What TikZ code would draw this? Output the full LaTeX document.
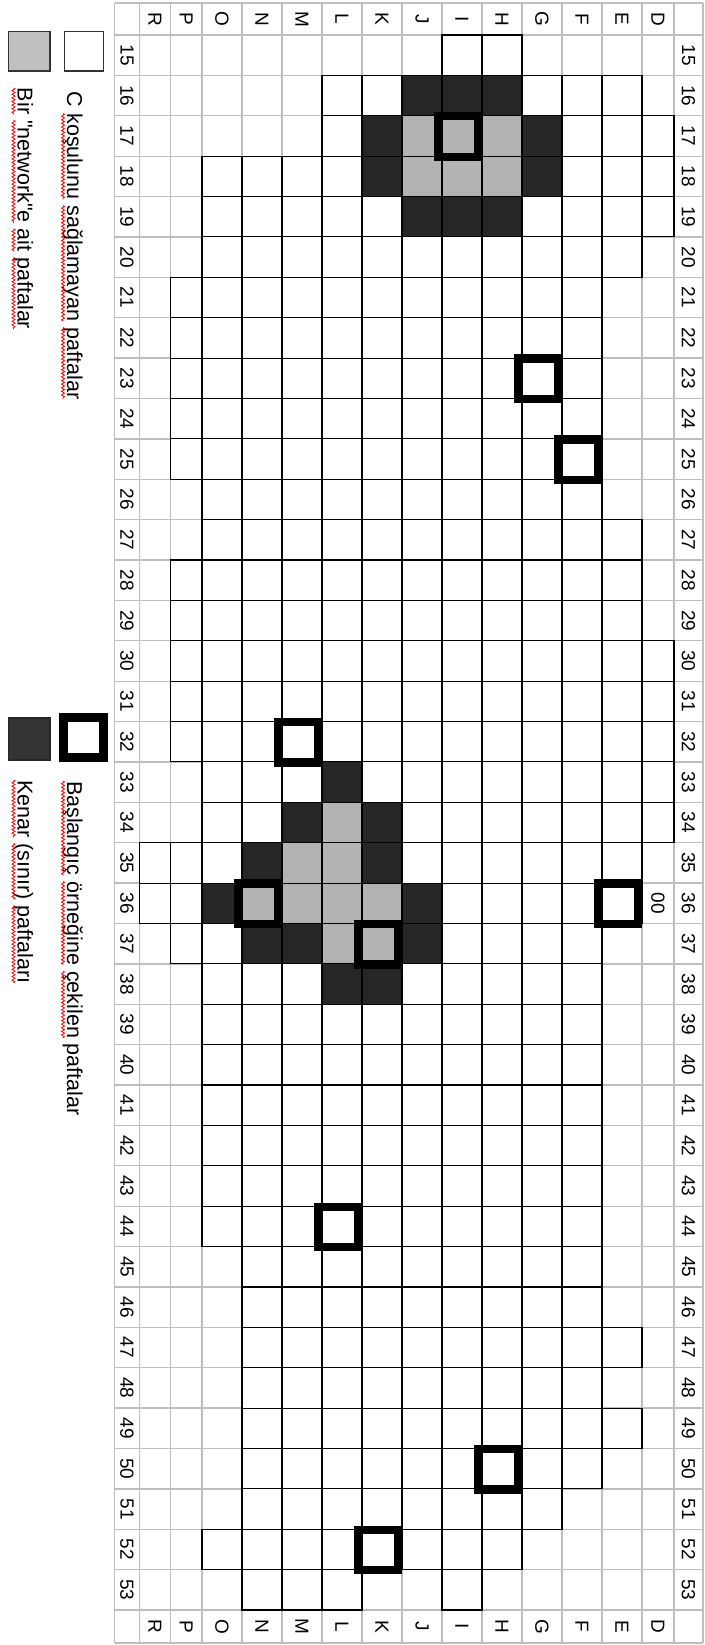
\documentclass[tikz,border=0pt]{standalone}
\usepackage{fontspec}
\setmainfont{Liberation Sans}
\newfontfamily\legfont{Liberation Sans}
\usetikzlibrary{decorations.pathmorphing}
\definecolor{gridgray}{HTML}{BEBEBE}
\definecolor{netgray}{HTML}{B3B3B3}
\definecolor{edgedark}{HTML}{262626}
\definecolor{leggray}{HTML}{C0C0C0}
\definecolor{legdark}{HTML}{333333}
\def\cx{{139.5,170.5,202,242,282,322,362,402,442,482,522,562,602,642,674}}
\newcommand\cellxy[2]{%
  \pgfmathsetmacro\pxa{\cx[#2-1]}%
  \pgfmathsetmacro\pxb{\cx[#2]}%
  \pgfmathsetmacro\pya{35+(#1-15)*40.385}%
  \pgfmathsetmacro\pyb{\pya+40.385}}
\def\wordgap{5.98pt}
\tikzset{
  gridl/.style={draw=gridgray, line width=1.3pt},
  cellb/.style={draw=black, line width=1.1pt, fill=white},
  netcell/.style={draw=black, line width=1.1pt, fill=netgray},
  edgecell/.style={draw=black, line width=1.1pt, fill=edgedark},
  startbox/.style={draw=black, line width=8.3pt},
  hdr/.style={font=\fontsize{19}{19}\selectfont, rotate=-90, inner sep=0pt, outer sep=0pt},
  leg/.style={font=\legfont\fontsize{21.5}{22}\selectfont, rotate=-90, inner sep=0pt, outer sep=0pt, anchor=base west},
  sq/.style={draw=red, line width=0.8pt, decorate, decoration={zigzag, segment length=3.6pt, amplitude=1.5pt}},
}
\begin{document}
\begin{tikzpicture}[x=1pt,y=-1pt]
\useasboundingbox (0,0) rectangle (704,1645);
\fill[white] (0,0) rectangle (704,1645);
% grid
\foreach \gx in {114.5,139.5,170.5,202,242,282,322,362,402,442,482,522,562,602,642,674,703}
  \draw[gridl] (\gx,3) -- (\gx,1643);
\draw[gridl] (114.5,3) -- (703,3);
\foreach \k in {0,...,39}
  \draw[gridl] (114.5,{35+\k*40.385}) -- (703,{35+\k*40.385});
\draw[gridl] (114.5,1643) -- (703,1643);
% cells of the area (white)
\foreach \r/\a/\b in {15/9/10,16/6/13,17/6/14,18/3/14,19/3/14,20/3/13,
  21/2/12,22/2/12,23/2/12,24/2/12,25/2/12,26/3/12,27/3/13,28/2/13,29/2/13,
  30/2/14,31/2/14,32/2/14,33/3/14,34/3/14,35/1/13,36/1/13,37/2/12,
  38/3/12,39/3/12,40/3/12,41/3/12,42/3/12,43/3/12,44/3/12,
  45/4/12,46/4/12,47/4/13,48/4/12,49/4/13,50/4/12,51/4/11,52/3/10,53/4/6,53/9/9}{
  \foreach \c in {\a,...,\b}{
    \cellxy{\r}{\c}
    \draw[cellb] (\pxa,\pya) rectangle (\pxb,\pyb);
  }
}
% network cells
\foreach \r/\c in {17/8,17/9,17/10,18/8,18/9,18/10,34/6,35/5,35/6,36/4,36/5,36/6,36/7,37/6,37/7}{
  \cellxy{\r}{\c}
  \draw[netcell] (\pxa,\pya) rectangle (\pxb,\pyb);
}
% edge cells
\foreach \r/\c in {16/8,16/9,16/10,17/7,17/11,18/7,18/11,19/8,19/9,19/10,
  33/6,34/5,34/7,35/4,35/7,36/3,36/8,37/4,37/5,37/8,38/6,38/7}{
  \cellxy{\r}{\c}
  \draw[edgecell] (\pxa,\pya) rectangle (\pxb,\pyb);
}
% start sample cells
\foreach \r/\c in {17/9,23/11,25/12,32/5,36/4,37/7,36/13,44/6,50/10,52/7}{
  \cellxy{\r}{\c}
  \draw[startbox] ({\pxa-4},{\pya+0.5}) rectangle ({\pxb-4},{\pyb+0.5});
}
% column letters
\foreach \L [count=\i] in {R,P,O,N,M,L,K,J,I,H,G,F,E,D}{
  \cellxy{15}{\i}
  \pgfmathsetmacro\mx{(\pxa+\pxb)/2}
  \node[hdr] (top\L) at (\mx,19) {\L};
  \node[hdr] (bot\L) at (\mx,1626.5) {\L};
}
% row numbers
\foreach \r in {15,...,53}{
  \pgfmathsetmacro\my{35+(\r-15)*40.385+20.19}
  \node[hdr] (ln\r) at (127,\my) {\r};
  \node[hdr] (rn\r) at (688.5,\my) {\r};
}
\node[hdr] (zz) at (658,903.2) {00};
% legend boxes
\draw[draw=legdark, line width=1.5pt, fill=white] (64.3,31.7) rectangle (103.3,71);
\draw[draw=legdark, line width=1.5pt, fill=leggray] (8.3,31.7) rectangle (50,71);
\draw[draw=black, line width=9pt] (63.5,717.5) rectangle (103.2,757.5);
\draw[draw=black!85, line width=1.5pt, fill=legdark] (8.3,718) rectangle (50,760);
% legend text 1
\node[leg] (t1a) at (67,92) {C};
\node[leg] (t1b) at ([yshift=-\wordgap]t1a.base east) {koşulunu};
\node[leg] (t1c) at ([yshift=-\wordgap]t1b.base east) {sağlamayan};
\node[leg] (t1d) at ([yshift=-\wordgap]t1c.base east) {paftalar};
\foreach \w in {t1b,t1c,t1d}
  \draw[sq] ([xshift=-4pt]\w.base west) -- ([xshift=-4pt]\w.base east);
% legend text 2
\node[leg] (t2a) at (17.5,88) {Bir};
\node[leg] (t2b) at ([yshift=-\wordgap]t2a.base east) {"network"e};
\node[leg] (t2c) at ([yshift=-\wordgap]t2b.base east) {ait};
\node[leg] (t2d) at ([yshift=-\wordgap]t2c.base east) {paftalar};
\foreach \w in {t2a,t2b,t2c,t2d}
  \draw[sq] ([xshift=-4pt]\w.base west) -- ([xshift=-4pt]\w.base east);
% legend text 3
\node[leg] (t3a) at (67,781) {Başlangıç};
\node[leg] (t3b) at ([yshift=-\wordgap]t3a.base east) {örneğine};
\node[leg] (t3c) at ([yshift=-\wordgap]t3b.base east) {çekilen};
\node[leg] (t3d) at ([yshift=-\wordgap]t3c.base east) {paftalar};
\foreach \w in {t3a,t3b,t3c}
  \draw[sq] ([xshift=-4pt]\w.base west) -- ([xshift=-4pt]\w.base east);
% legend text 4
\node[leg] (t4a) at (17.5,780) {Kenar};
\node[leg] (t4b) at ([yshift=-\wordgap]t4a.base east) {(sınır)};
\node[leg] (t4c) at ([yshift=-\wordgap]t4b.base east) {paftaları};
\foreach \w in {t4a,t4b,t4c}
  \draw[sq] ([xshift=-4pt]\w.base west) -- ([xshift=-4pt]\w.base east);
\end{tikzpicture}
\end{document}
